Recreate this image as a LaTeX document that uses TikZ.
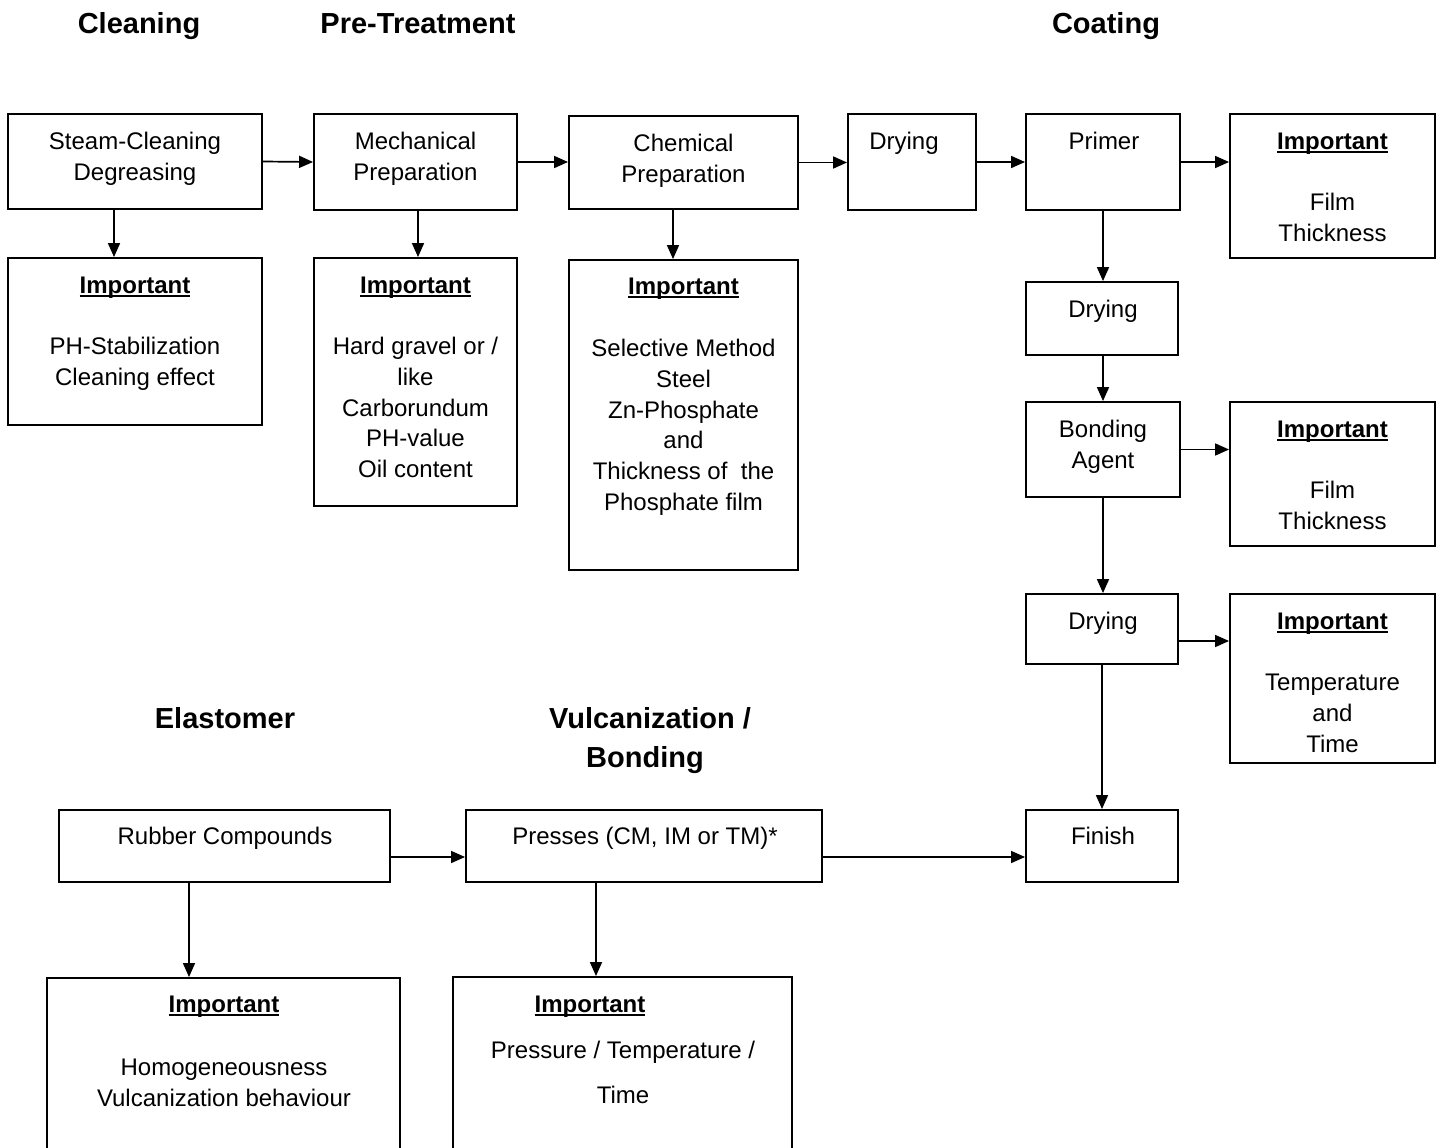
\documentclass[tikz,border=0pt]{standalone}
\usepackage{fontspec}
\setmainfont{Liberation Sans}
\usetikzlibrary{arrows.meta,calc}
\newcommand\impt{\setbox0\hbox{\bfseries Important}\rlap{\rule[-3.5pt]{\wd0}{1.8pt}}\box0}
\tikzset{
  box/.style={draw, line width=1.9pt, inner sep=0pt, rectangle},
  txt/.style={font=\fontsize{24}{30.75}\selectfont, align=center, anchor=base, inner sep=0pt},
  hdr/.style={font=\fontsize{29}{38}\selectfont\bfseries, anchor=base, inner sep=0pt},
  arr/.style={line width=1.7pt, -{Triangle[length=14pt,width=12pt]}}
}
\begin{document}
\begin{tikzpicture}[x=1pt,y=-1pt]
\clip (0,0) rectangle (1441,1148);
\fill[white] (0,0) rectangle (1441,1148);
% headers
\node[hdr] (hClean) at (139,33.5) {Cleaning};
\node[hdr] (hPre) at (418,33.5) {Pre-Treatment};
\node[hdr] (hCoat) at (1106,33.5) {Coating};
\node[hdr] (hElast) at (225,728.5) {Elastomer};
\node[hdr] (hVulc) at (650,728.5) {Vulcanization /};
\node[hdr] (hBond) at (645,767.5) {Bonding};
% boxes
\node[box, minimum width=254pt, minimum height=95pt] (steam) at (135,161.5) {};
\node[box, minimum width=254pt, minimum height=167pt] (imp1) at (135,341.5) {};
\node[box, minimum width=203pt, minimum height=96pt] (mech) at (415.5,162) {};
\node[box, minimum width=203pt, minimum height=248pt] (imp2) at (415.5,382) {};
\node[box, minimum width=229pt, minimum height=93pt] (chem) at (683.5,162.5) {};
\node[box, minimum width=229pt, minimum height=310pt] (imp3) at (683.5,415) {};
\node[box, minimum width=128pt, minimum height=96pt] (dry1) at (912,162) {};
\node[box, minimum width=154pt, minimum height=96pt] (primer) at (1103,162) {};
\node[box, minimum width=205pt, minimum height=144pt] (impP) at (1332.5,186) {};
\node[box, minimum width=152pt, minimum height=73pt] (dry2) at (1102,318.5) {};
\node[box, minimum width=154pt, minimum height=95pt] (bond) at (1103,449.5) {};
\node[box, minimum width=205pt, minimum height=144pt] (impB) at (1332.5,474) {};
\node[box, minimum width=152pt, minimum height=70pt] (dry3) at (1102,629) {};
\node[box, minimum width=205pt, minimum height=169pt] (impD) at (1332.5,678.5) {};
\node[box, minimum width=152pt, minimum height=72pt] (finish) at (1102,846) {};
\node[box, minimum width=331pt, minimum height=72pt] (rubber) at (224.5,846) {};
\node[box, minimum width=356pt, minimum height=72pt] (presses) at (644,846) {};
\node[box, minimum width=353pt, minimum height=182pt] (impR) at (223.5,1069) {};
\node[box, minimum width=339pt, minimum height=183pt] (impPr) at (622.5,1068.5) {};
% texts (anchor base = baseline of the last line)
\node[txt] (tSteam) at (135,180.25) {Steam-Cleaning\\Degreasing};
\node[txt] (tImp1) at (135,293.5) {\impt};
\node[txt] (tImp1b) at (135,385.25) {PH-Stabilization\\Cleaning effect};
\node[txt] (tMech) at (415.5,180.25) {Mechanical\\Preparation};
\node[txt] (tImp2) at (415.5,293.5) {\impt};
\node[txt] (tImp2b) at (415.5,477.5) {Hard gravel or /\\like\\Carborundum\\PH-value\\Oil content};
\node[txt] (tChem) at (683.5,182.25) {Chemical\\Preparation};
\node[txt] (tImp3) at (683.5,294.5) {\impt};
\node[txt] (tImp3b) at (683.5,510.25) {Selective Method\\Steel\\Zn-Phosphate\\and\\Thickness of\ \ the\\Phosphate film};
\node[txt] (tDry1) at (904,149.5) {Drying};
\node[txt] (tPrimer) at (1104,149.5) {Primer};
\node[txt] (tImpP) at (1332.5,149.5) {\impt};
\node[txt] (tImpPb) at (1332.5,241.25) {Film\\Thickness};
\node[txt] (tDry2) at (1103,317.5) {Drying};
\node[txt] (tBond) at (1103,468.25) {Bonding\\Agent};
\node[txt] (tImpB) at (1332.5,437.5) {\impt};
\node[txt] (tImpBb) at (1332.5,529.25) {Film\\Thickness};
\node[txt] (tDry3) at (1103,629.5) {Drying};
\node[txt] (tImpD) at (1332.5,629.5) {\impt};
\begin{scope}
\clip (1231,595) rectangle (1434,752);
\node[txt] (tImpDb) at (1332.5,752) {Temperature\\and\\Time};
\end{scope}
\node[txt] (tFinish) at (1103,844.5) {Finish};
\node[txt] (tRubber) at (225,844.5) {Rubber Compounds};
\node[txt] (tPresses) at (645,844.5) {Presses (CM, IM or TM)*};
\node[txt] (tImpR) at (224,1012.5) {\impt};
\node[txt] (tImpRb) at (224,1106.25) {Homogeneousness\\Vulcanization behaviour};
\node[txt] (tImpPr) at (590,1012.5) {\impt};
\node[txt] (tImpPrb) at (623,1058.5) {Pressure / Temperature /};
\node[txt] (tImpPrc) at (623,1103.5) {Time};
% connectors
\draw[arr] (steam.east) -- (mech.west);
\draw[arr] (mech.east) -- (chem.west |- mech.east);
\draw[arr] (chem.east) -- (dry1.west |- chem.east);
\draw[arr] (dry1.east) -- (primer.west);
\draw[arr] (primer.east) -- (primer.east -| impP.west);
\draw[arr] (primer.south) -- (primer.south |- dry2.north);
\draw[arr] (dry2.south -| bond.north) -- (bond.north);
\draw[arr] (bond.east) -- (bond.east -| impB.west);
\draw[arr] (bond.south) -- (bond.south |- dry3.north);
\draw[arr] ($(dry3.east)+(0,12)$) -- ($(dry3.east -| impD.west)+(0,12)$);
\draw[arr] (dry3.south -| finish.north) -- (finish.north);
\draw[arr] ($(steam.south)+(-21,0)$) -- ($(imp1.north)+(-21,0)$);
\draw[arr] ($(mech.south)+(2.5,0)$) -- ($(imp2.north)+(2.5,0)$);
\draw[arr] ($(chem.south)+(-10.5,0)$) -- ($(imp3.north)+(-10.5,0)$);
\draw[arr] ($(rubber.east)+(0,11)$) -- ($(presses.west)+(0,11)$);
\draw[arr] ($(presses.east)+(0,11)$) -- ($(finish.west)+(0,11)$);
\draw[arr] ($(rubber.south)+(-35.5,0)$) -- ($(rubber.south |- impR.north)+(-35.5,0)$);
\draw[arr] ($(presses.south)+(-48,0)$) -- ($(presses.south |- impPr.north)+(-48,0)$);
\end{tikzpicture}
\end{document}
